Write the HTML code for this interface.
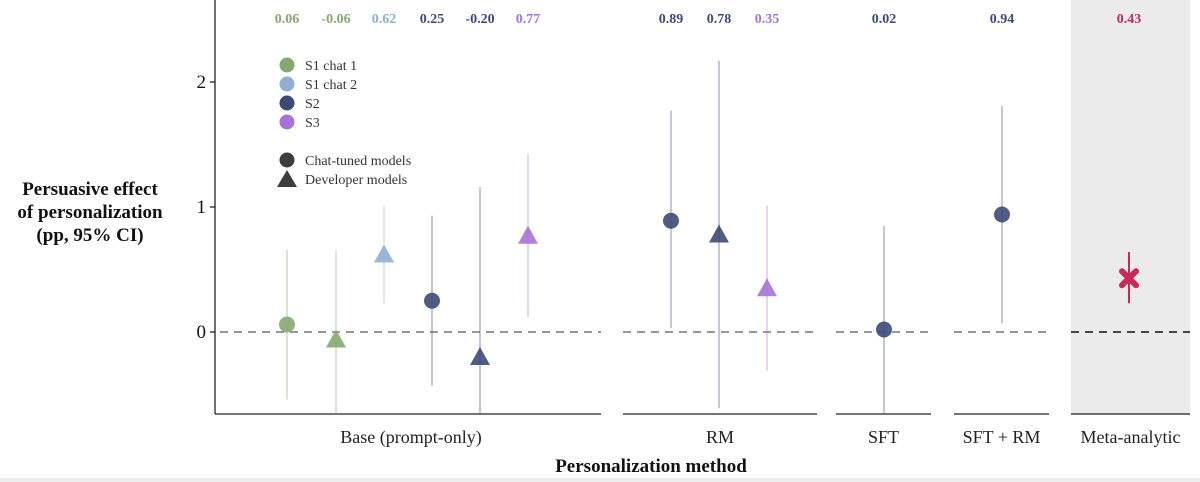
<!DOCTYPE html>
<html><head><meta charset="utf-8">
<style>
body{margin:0;background:#fff;}
svg{display:block;font-family:"Liberation Serif","DejaVu Serif",serif;}
</style></head>
<body>
<svg id="chart" width="1200" height="482" viewBox="0 0 1200 482" xmlns="http://www.w3.org/2000/svg">
<rect x="0" y="0" width="1200" height="482" fill="#fff"/>
<rect x="0" y="478" width="1200" height="4" fill="#eeeeee"/>
<rect x="1071" y="0" width="119" height="414" fill="#ebebeb"/>
<g id="marks"></g>
<line x1="215" y1="0" x2="215" y2="414" stroke="#222" stroke-width="1.3"/>
<g id="yticks"></g>
<text font-weight="bold" font-size="19" text-anchor="middle" fill="#111">
<tspan x="90" y="195">Persuasive effect</tspan><tspan x="90" y="218">of personalization</tspan><tspan x="90" y="241">(pp, 95% CI)</tspan></text>
<text x="651" y="472" font-weight="bold" font-size="19" text-anchor="middle" fill="#111">Personalization method</text>
<g font-size="14" fill="#333">
<circle cx="287" cy="65" r="7.5" fill="#86a872"/><text x="305" y="70">S1 chat 1</text>
<circle cx="287" cy="84" r="7.5" fill="#8fb0d0"/><text x="305" y="89">S1 chat 2</text>
<circle cx="287" cy="103" r="7.5" fill="#3d4a75"/><text x="305" y="108">S2</text>
<circle cx="287" cy="122" r="7.5" fill="#a872d8"/><text x="305" y="127">S3</text>
<circle cx="287" cy="160" r="7.5" fill="#3d3d3d"/><text x="305" y="165">Chat-tuned models</text>
<polygon points="277,187 297,187 287,170" fill="#3d3d3d"/><text x="305" y="184">Developer models</text>
</g>
</svg>
<script>
const groups=["Base (prompt-only)","RM","SFT","SFT + RM","Meta-analytic"];
const groupStart=[215,623,836,954,1071];
const groupEnd=[601,817,931,1049,1190];
const estGroup=[0,0,0,0,0,0,1,1,1,2,3,4];
const estX=[287,336,384,432,480,528,671,719,767,884,1002,1129];
const estValue=[0.06,-0.06,0.62,0.25,-0.20,0.77,0.89,0.78,0.35,0.02,0.94,0.43];
const ciLow=[-0.54,-0.66,0.23,-0.43,-0.66,0.12,0.03,-0.61,-0.31,-0.66,0.07,0.23];
const ciHigh=[0.66,0.65,1.01,0.93,1.16,1.42,1.77,2.17,1.01,0.85,1.81,0.64];
const estStudy=["s1a","s1a","s1b","s2","s2","s3","s2","s2","s3","s2","s2","meta"];
const estShape=["c","t","t","c","t","t","c","t","t","c","c","x"];
const yTicks=[0,1,2];
const colors={s1a:"#86a872",s1b:"#8fb0d0",s2:"#3d4a75",s3:"#a872d8",meta:"#c8285a"};
const y=v=>332-v*125;
const NS="http://www.w3.org/2000/svg";
const marks=document.getElementById('marks');
function mk(t,a,p){const e=document.createElementNS(NS,t);for(const k in a)e.setAttribute(k,a[k]);(p||marks).appendChild(e);return e;}
const yt=document.getElementById('yticks');
yTicks.forEach(v=>{
 const l=mk('line',{x1:210,x2:215,y1:y(v),y2:y(v),stroke:'#222','stroke-width':1.3},yt);
 
 
 const t=mk('text',{x:206,y:y(v)+6,'text-anchor':'end','font-size':19,fill:'#111'},yt);t.textContent=v;
 
 
});
groups.forEach((g,i)=>{
 const l=mk('line',{x1:groupStart[i],x2:groupEnd[i],y1:414,y2:414,stroke:'#222','stroke-width':1.3});
 
 
 const z=mk('line',{x1:groupStart[i]+(i==0?5:0),x2:groupEnd[i],y1:y(0),y2:y(0),stroke:i==4?'#111':'#777','stroke-width':1.4,'stroke-dasharray':'8,6'});
 
 
 const t=mk('text',{x:(groupStart[i]+groupEnd[i])/2+(i==0?3:0),y:443,'text-anchor':'middle','font-size':18,fill:'#222'});t.textContent=g;
 
 
});
estValue.forEach((v,i)=>{
 const c=colors[estStudy[i]],x=estX[i];
 const lo=Math.max(ciLow[i],-0.656);
 const ci=mk('line',{x1:x,x2:x,y1:y(lo),y2:y(ciHigh[i]),stroke:c,'stroke-width':2,'stroke-opacity':estShape[i]=='x'?1:0.3});
 
 
 const cy=y(v);let m;
 if(estShape[i]=='c') m=mk('circle',{cx:x,cy:cy,r:8,fill:c,'fill-opacity':0.9});
 else if(estShape[i]=='t') m=mk('polygon',{points:`${x-10},${cy+8} ${x+10},${cy+8} ${x},${cy-10}`,fill:c,'fill-opacity':0.9});
 else m=mk('path',{d:`M${x-7},${cy-7}L${x+7},${cy+7}M${x+7},${cy-7}L${x-7},${cy+7}`,stroke:c,'stroke-width':6,'stroke-linecap':'round'});
 
 
 const t=mk('text',{x:x,y:23,'text-anchor':'middle','font-size':14,'font-weight':'bold',fill:c});
 t.textContent=v.toFixed(2);
 
 
});
</script>
</body></html>
